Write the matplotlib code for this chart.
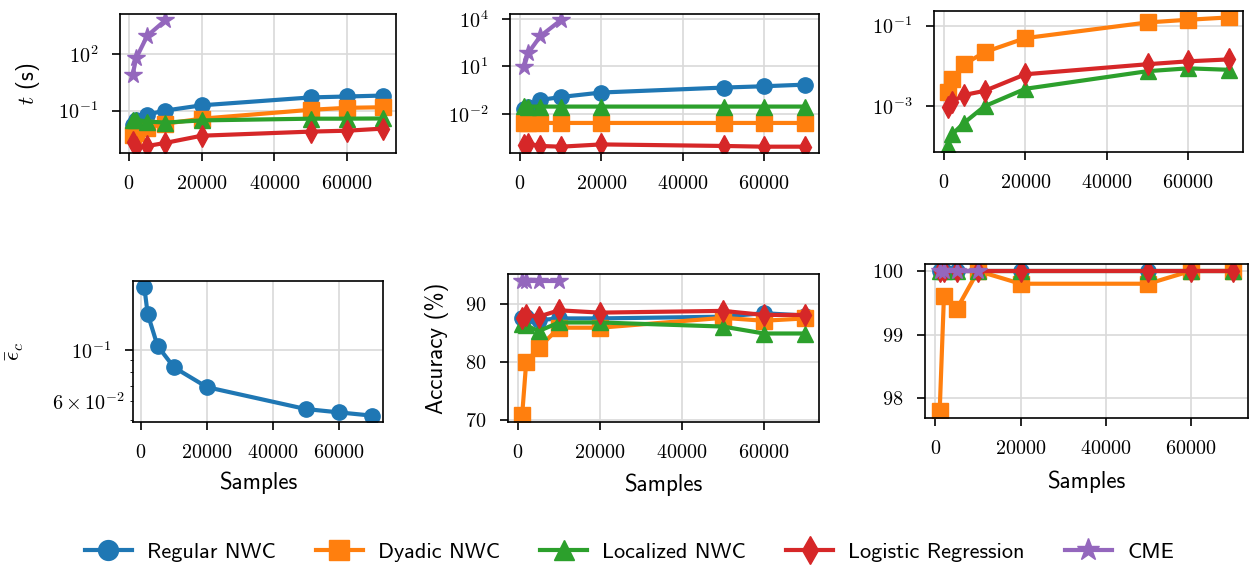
import numpy as np
import matplotlib
matplotlib.use('Agg')
from matplotlib import pyplot as plt

plt.rcParams['font.family'] = 'cmr10'
plt.rcParams['mathtext.fontset'] = 'cm'
plt.rcParams['axes.formatter.use_mathtext'] = True
plt.rcParams['font.size'] = 14.5
plt.rcParams['xtick.major.pad'] = 10
plt.rcParams['ytick.major.pad'] = 10
plt.rcParams['xtick.major.size'] = 5.5
plt.rcParams['ytick.major.size'] = 5.5
plt.rcParams['xtick.major.width'] = 1.2
plt.rcParams['ytick.major.width'] = 1.2

samples = [1000, 2000, 5000, 10000, 20000, 50000, 60000, 70000]
cme_samples = [1000, 2000, 5000, 10000]

labels = ['Regular NWC', 'Dyadic NWC', 'Localized NWC', 'Logistic Regression', 'CME']
colors = ['#1f77b4', '#ff7f0e', '#2ca02c', '#d62728', '#9467bd']
markers = ['o', 's', '^', 'd', '*']

# training time, dataset A (s)
time_a = {
    'Regular NWC': [0.018, 0.03, 0.061, 0.10, 0.19, 0.50, 0.56, 0.63],
    'Dyadic NWC': [0.0052, 0.0066, 0.012, 0.020, 0.037, 0.11, 0.14, 0.15],
    'Localized NWC': [0.033, 0.032, 0.026, 0.023, 0.030, 0.037, 0.037, 0.038],
    'Logistic Regression': [0.0022, 0.0012, 0.0013, 0.0019, 0.0046, 0.0076, 0.0085, 0.011],
    'CME': [7.6, 61, 920, 6300],
}
# training time, dataset B (s)
time_b = {
    'Regular NWC': [0.021, 0.03, 0.078, 0.12, 0.23, 0.47, 0.57, 0.72],
    'Dyadic NWC': [0.0026, 0.0028, 0.0028, 0.0028, 0.0028, 0.0028, 0.0028, 0.0028],
    'Localized NWC': [0.031, 0.030, 0.030, 0.030, 0.030, 0.030, 0.030, 0.030],
    'Logistic Regression': [1.2e-4, 1.4e-4, 1.0e-4, 9e-5, 1.25e-4, 1.0e-4, 9e-5, 9e-5],
    'CME': [9.5, 69, 810, 8000],
}
# prediction time (s)
time_c = {
    'Dyadic NWC': [0.0023, 0.0047, 0.011, 0.022, 0.049, 0.12, 0.14, 0.16],
    'Localized NWC': [1.05e-4, 2.0e-4, 3.9e-4, 0.001, 0.0027, 0.0074, 0.0087, 0.008],
    'Logistic Regression': [0.00095, 0.0013, 0.0019, 0.0024, 0.0062, 0.011, 0.013, 0.0145],
}
eps_c = [0.186, 0.143, 0.104, 0.084, 0.069, 0.0555, 0.0537, 0.052]

acc_b = {
    'Regular NWC': [87.5, 87.8, 87.2, 87.5, 87.5, 87.8, 88.4, 88.0],
    'Dyadic NWC': [70.8, 80.0, 82.4, 85.9, 85.9, 87.6, 87.1, 87.5],
    'Localized NWC': [86.5, 86.3, 85.3, 86.8, 86.8, 86.1, 84.9, 84.9],
    'Logistic Regression': [87.6, 88.1, 87.8, 88.9, 88.5, 88.8, 88.1, 88.1],
    'CME': [94.0, 94.0, 94.0, 94.0],
}
acc_c = {
    'Regular NWC': [100, 100, 100, 100, 100, 100, 100, 100],
    'Dyadic NWC': [97.8, 99.6, 99.4, 100, 99.8, 99.8, 100, 100],
    'Localized NWC': [100, 100, 100, 100, 100, 100, 100, 100],
    'Logistic Regression': [100, 100, 100, 100, 100, 100, 100, 100],
    'CME': [100, 100, 100, 100],
}

W, H = 1259, 569
label_font = {'family': 'cmss10', 'size': 16.5}


def add_ax(fig, left, right, top, bottom):
    return fig.add_axes([left / W, (H - bottom) / H, (right - left) / W, (bottom - top) / H])


def draw_series(ax, data):
    for lab, col, mk in zip(labels, colors, markers):
        if lab not in data:
            continue
        xs = cme_samples if lab == 'CME' else samples
        ms = 13 if mk == '*' else 11
        ax.plot(xs, data[lab], color=col, marker=mk, lw=3, ms=ms, label=lab)


def style(ax):
    ax.grid(True, color='#d9d9d9', lw=1.2)
    ax.set_axisbelow(True)
    ax.set_xticks([0, 20000, 40000, 60000])
    for s in ax.spines.values():
        s.set_linewidth(1.2)


fig = plt.figure(figsize=(W / 100, H / 100), dpi=100)

ax1 = add_ax(fig, 120, 396, 14, 153)
draw_series(ax1, time_a)
ax1.set_yscale('log')
ax1.set_ylabel('$t$ (s)', **label_font)
ax1.yaxis.set_label_coords(-0.283, 0.5)
style(ax1)

ax2 = add_ax(fig, 510, 819, 14, 153)
draw_series(ax2, time_b)
ax2.set_yscale('log')
style(ax2)

ax3 = add_ax(fig, 934, 1243, 11, 152)
draw_series(ax3, time_c)
ax3.set_yscale('log')
style(ax3)

ax4 = add_ax(fig, 133, 383, 281, 422)
ax4.plot(samples, eps_c, color=colors[0], marker='o', lw=3, ms=11)
ax4.set_yscale('log')
ax4.set_ylabel(r'$\bar{\epsilon}_c$', **label_font)
ax4.yaxis.set_label_coords(-0.428, 0.5)
ax4.set_xlabel('Samples', **label_font)
ax4.xaxis.set_label_coords(0.5, -0.348)
style(ax4)

ax5 = add_ax(fig, 508, 819, 274, 422)
draw_series(ax5, acc_b)
ax5.set_ylabel('Accuracy (%)', **label_font)
ax5.yaxis.set_label_coords(-0.19, 0.5)
ax5.set_xlabel('Samples', **label_font)
ax5.xaxis.set_label_coords(0.5, -0.351)
ax5.set_yticks([70, 80, 90])
style(ax5)

ax6 = add_ax(fig, 925, 1248, 264, 418)
draw_series(ax6, acc_c)
ax6.set_xlabel('Samples', **label_font)
ax6.xaxis.set_label_coords(0.5, -0.344)
ax6.set_yticks([98, 99, 100])
style(ax6)

handles, hl = ax5.get_legend_handles_labels()
fig.legend(handles, hl, loc='center', bbox_to_anchor=(0.5, 17 / H), ncol=5,
           frameon=False, prop={'family': 'cmss10', 'size': 16},
           handlelength=2.1, handletextpad=0.7, columnspacing=1.8,
           markerscale=1.3)

fig.savefig('out.png', dpi=100)
